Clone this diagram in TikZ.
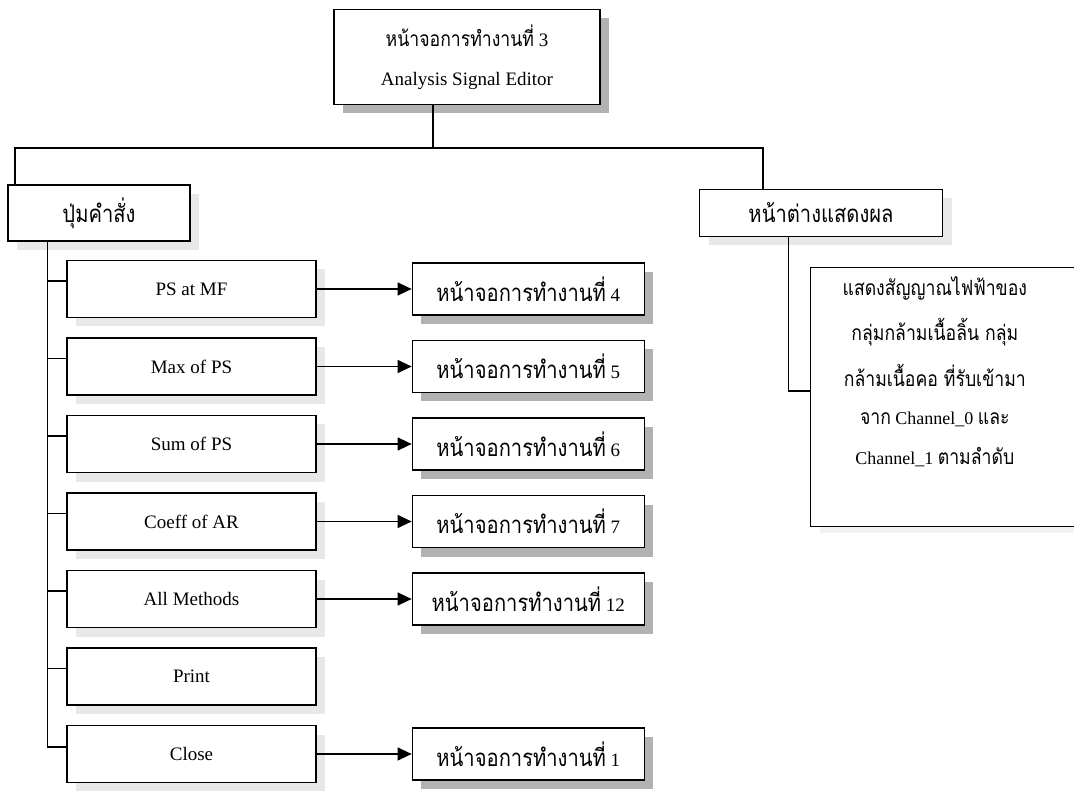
\documentclass[tikz,border=0pt]{standalone}
\usepackage{graphicx}
\usepackage{fontspec}
\setmainfont{Liberation Serif}
\newfontfamily\thaifont[Script=Thai]{Loma}
\usetikzlibrary{positioning,shadows,arrows.meta}

% Thai words in the boxes (tall and narrow like the printed font)
\newcommand{\thtxt}[2][24]{\scalebox{0.84}[1]{\thaifont\fontsize{#1}{#1}\selectfont #2}}
\newcommand{\scrno}[1]{\thtxt{หน้าจอการทำงานที่}~#1}

\tikzset{
  box/.style={draw, line width=1.3pt, fill=white, inner sep=0pt,
    font=\fontsize{19}{23}\selectfont},
  darkshadow/.style={drop shadow={shadow xshift=9pt, shadow yshift=-9pt,
    fill=gray!60, opacity=1}},
  lightshadow/.style={drop shadow={shadow xshift=9pt, shadow yshift=-9pt,
    fill=gray!18, opacity=1}},
  btn/.style={box, lightshadow, minimum width=249pt, minimum height=57pt},
  scrbox/.style={box, darkshadow, minimum width=232pt, minimum height=52pt},
  link/.style={line width=1.2pt},
  go/.style={link, -{Triangle[length=14pt,width=13pt]}}
}

\begin{document}
\begin{tikzpicture}[x=1pt,y=-1pt]
    \useasboundingbox (0,0) rectangle (1074,791);

    % Top screen
    \node[box, darkshadow, minimum width=266pt, minimum height=95pt, align=center]
        (scr3) at (467,57) {\thtxt[21]{หน้าจอการทำงานที่}~3\\[16pt]Analysis Signal Editor};

    % Two main parts
    \node[box, lightshadow, minimum width=182pt, minimum height=56pt]
        (cmdbtn) at (99,213) {\thtxt{ปุ่มคำสั่ง}};
    \node[box, lightshadow, minimum width=243pt, minimum height=47pt]
        (dispwin) at (821,213) {\thtxt{หน้าต่างแสดงผล}};

    % Bus under the top screen
    \coordinate (busL) at (15,148);
    \coordinate (busR) at (763,148);
    \draw[link] ([xshift=-34pt]scr3.south) -- ([xshift=-34pt]scr3.south |- busL);
    \draw[link] (cmdbtn.north -| busL) -- (busL) -- (busR) -- (busR |- dispwin.north);

    % Command buttons
    \node[btn] (psmf) at (191.5,289) {PS at MF};
    \node[btn, below=19.2pt of psmf] (maxps) {Max of PS};
    \node[btn, below=19.2pt of maxps] (sumps) {Sum of PS};
    \node[btn, below=19.2pt of sumps] (coeffar) {Coeff of AR};
    \node[btn, below=19.2pt of coeffar] (allm) {All Methods};
    \node[btn, below=19.2pt of allm] (prnt) {Print};
    \node[btn, below=19.2pt of prnt] (clos) {Close};

    % Trunk of the buttons
    \coordinate (trunk) at ([xshift=40pt]cmdbtn.south west);
    \draw[link] (trunk) |- ([yshift=7pt]clos.west);
    \foreach \b in {psmf,maxps,sumps,coeffar,allm,prnt}
        \draw[link] ([yshift=8pt]\b.west) -- ([yshift=8pt]\b.west -| trunk);

    % Screens opened by the buttons
    \node[scrbox, right=95pt of psmf] (scr4) {\scrno{4}};
    \node[scrbox, right=95pt of maxps] (scr5) {\scrno{5}};
    \node[scrbox, right=95pt of sumps] (scr6) {\scrno{6}};
    \node[scrbox, right=95pt of coeffar] (scr7) {\scrno{7}};
    \node[scrbox, right=95pt of allm] (scr12) {\scrno{12}};
    \node[scrbox, right=95pt of clos] (scr1) {\scrno{1}};

    \draw[go] (psmf) -- (scr4);
    \draw[go] (maxps) -- (scr5);
    \draw[go] (sumps) -- (scr6);
    \draw[go] (coeffar) -- (scr7);
    \draw[go] (allm) -- (scr12);
    \draw[go] (clos) -- (scr1);

    % Display window contents
    \node[box, drop shadow={shadow xshift=9pt, shadow yshift=-6pt, fill=gray!10, opacity=1},
        font=\fontsize{18}{21}\selectfont,
        minimum height=259pt, inner xsep=32pt, anchor=west]
        (dispinfo) at (810,397) {\begin{tabular}{@{}c@{}}
            \thtxt[21]{แสดงสัญญาณไฟฟ้าของ}\\[17pt]
            \thtxt[21]{กลุ่มกล้ามเนื้อลิ้น กลุ่ม}\\[17pt]
            \thtxt[21]{กล้ามเนื้อคอ ที่รับเข้ามา}\\[17pt]
            \thtxt[21]{จาก} Channel\_0 \thtxt[21]{และ}\\[17pt]
            Channel\_1 \thtxt[21]{ตามลำดับ}\\[26pt]
            \mbox{}
        \end{tabular}\hspace*{90pt}};
    \draw[link] ([xshift=90pt]dispwin.south west) |- ([yshift=6pt]dispinfo.west);
\end{tikzpicture}
\end{document}
